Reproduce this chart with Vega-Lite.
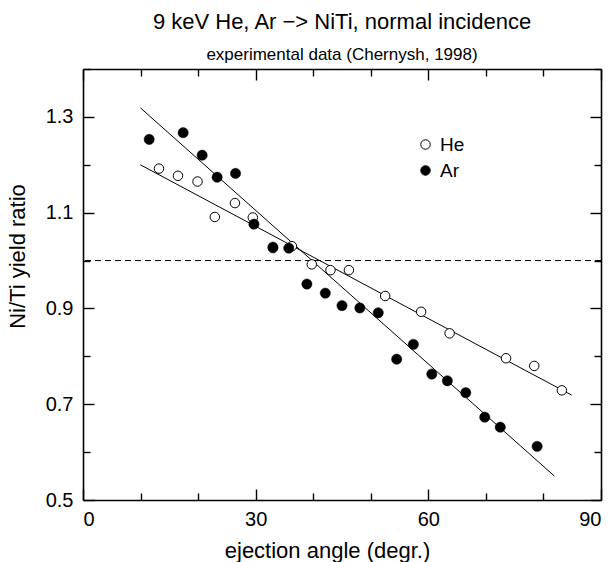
{
  "$schema": "https://vega.github.io/schema/vega-lite/v6.json",
  "width": 518,
  "height": 431,
  "autosize": "none",
  "padding": {"left": 83, "top": 69, "right": 11, "bottom": 62},
  "title": {
    "text": "9 keV He, Ar \u2212> NiTi, normal incidence",
    "subtitle": "experimental data (Chernysh, 1998)",
    "anchor": "middle",
    "frame": "group",
    "fontSize": 22,
    "fontWeight": "normal",
    "subtitleFontSize": 17,
    "subtitlePadding": 13,
    "offset": 4,
    "color": "black",
    "subtitleColor": "black"
  },
  "config": {
    "font": "Liberation Sans",
    "view": {"stroke": null},
    "axis": {"grid": false, "domainColor": "black", "domainWidth": 1.6, "tickColor": "black", "tickWidth": 1.4, "labelColor": "black", "titleColor": "black", "labelFontSize": 20, "titleFontSize": 22, "titleFontWeight": "normal"}
  },
  "datasets": {
    "points": [
      {"series": "He", "angle": 13.2, "ratio": 1.192},
      {"series": "He", "angle": 16.5, "ratio": 1.177},
      {"series": "He", "angle": 19.9, "ratio": 1.165},
      {"series": "He", "angle": 22.9, "ratio": 1.091},
      {"series": "He", "angle": 26.4, "ratio": 1.120},
      {"series": "He", "angle": 29.5, "ratio": 1.090},
      {"series": "He", "angle": 33.0, "ratio": 1.026},
      {"series": "He", "angle": 36.3, "ratio": 1.030},
      {"series": "He", "angle": 39.75, "ratio": 0.992},
      {"series": "He", "angle": 43.0, "ratio": 0.980},
      {"series": "He", "angle": 46.2, "ratio": 0.980},
      {"series": "He", "angle": 52.5, "ratio": 0.926},
      {"series": "He", "angle": 58.75, "ratio": 0.893},
      {"series": "He", "angle": 63.7, "ratio": 0.848},
      {"series": "He", "angle": 73.5, "ratio": 0.796},
      {"series": "He", "angle": 78.4, "ratio": 0.780},
      {"series": "He", "angle": 83.2, "ratio": 0.729},
      {"series": "Ar", "angle": 11.5, "ratio": 1.253},
      {"series": "Ar", "angle": 17.4, "ratio": 1.267},
      {"series": "Ar", "angle": 20.7, "ratio": 1.220},
      {"series": "Ar", "angle": 23.3, "ratio": 1.174},
      {"series": "Ar", "angle": 26.5, "ratio": 1.182},
      {"series": "Ar", "angle": 29.7, "ratio": 1.076},
      {"series": "Ar", "angle": 33.0, "ratio": 1.028},
      {"series": "Ar", "angle": 35.75, "ratio": 1.026},
      {"series": "Ar", "angle": 38.9, "ratio": 0.951},
      {"series": "Ar", "angle": 42.1, "ratio": 0.932},
      {"series": "Ar", "angle": 45.0, "ratio": 0.906},
      {"series": "Ar", "angle": 48.1, "ratio": 0.901},
      {"series": "Ar", "angle": 51.3, "ratio": 0.891},
      {"series": "Ar", "angle": 54.5, "ratio": 0.794},
      {"series": "Ar", "angle": 57.4, "ratio": 0.825},
      {"series": "Ar", "angle": 60.6, "ratio": 0.763},
      {"series": "Ar", "angle": 63.3, "ratio": 0.749},
      {"series": "Ar", "angle": 66.5, "ratio": 0.724},
      {"series": "Ar", "angle": 69.8, "ratio": 0.673},
      {"series": "Ar", "angle": 72.5, "ratio": 0.652},
      {"series": "Ar", "angle": 78.9, "ratio": 0.612}
    ],
    "fits": [
      {"series": "He", "angle": 9.96, "ratio": 1.200},
      {"series": "He", "angle": 84.9, "ratio": 0.719},
      {"series": "Ar", "angle": 9.96, "ratio": 1.319},
      {"series": "Ar", "angle": 81.9, "ratio": 0.550}
    ]
  },
  "resolve": {"axis": {"x": "independent", "y": "independent"}},
  "layer": [
    {
      "data": {"values": [{"ref": 1.0}]},
      "mark": {"type": "rule", "strokeDash": [6, 4], "color": "black", "strokeWidth": 1},
      "encoding": {
        "y": {"field": "ref", "type": "quantitative", "scale": {"domain": [0.5, 1.4], "nice": false, "zero": false}, "axis": null}
      }
    },
    {
      "data": {"name": "fits"},
      "transform": [{"filter": "datum.series === 'He'"}],
      "mark": {"type": "line", "color": "black", "strokeWidth": 1},
      "encoding": {
        "x": {"field": "angle", "type": "quantitative", "scale": {"domain": [0, 90], "nice": false, "zero": false},
          "axis": {"orient": "bottom", "values": [0, 30, 60, 90], "tickSize": -11, "labelPadding": 20, "domain": true, "title": "ejection angle (degr.)", "titleX": 244, "titleY": 57, "titleBaseline": "alphabetic", "titleAnchor": "start", "titleAlign": "center"}},
        "y": {"field": "ratio", "type": "quantitative", "scale": {"domain": [0.5, 1.4], "nice": false, "zero": false},
          "axis": {"orient": "left", "values": [0.5, 0.7, 0.9, 1.1, 1.3], "format": ".1f", "tickSize": -11, "labelPadding": 21, "domain": true, "title": "Ni/Ti yield ratio", "titleX": -66, "titleY": 187, "titleAngle": -90, "titleAlign": "center", "titleBaseline": "middle", "titleAnchor": "start"}}
      }
    },
    {
      "data": {"name": "fits"},
      "transform": [{"filter": "datum.series === 'Ar'"}],
      "mark": {"type": "line", "color": "black", "strokeWidth": 1},
      "encoding": {
        "x": {"field": "angle", "type": "quantitative", "scale": {"domain": [0, 90], "nice": false, "zero": false},
          "axis": {"orient": "top", "values": [0, 30, 60, 90], "tickSize": -11, "labels": false, "domain": true, "title": null}},
        "y": {"field": "ratio", "type": "quantitative", "scale": {"domain": [0.5, 1.4], "nice": false, "zero": false},
          "axis": {"orient": "right", "values": [0.5, 0.7, 0.9, 1.1, 1.3], "tickSize": -11, "labels": false, "domain": true, "title": null}}
      }
    },
    {
      "data": {"name": "points"},
      "transform": [{"filter": "datum.series === 'He'"}],
      "mark": {"type": "point", "shape": "circle", "filled": true, "stroke": "black", "strokeWidth": 1, "size": 90, "opacity": 1},
      "encoding": {
        "x": {"field": "angle", "type": "quantitative", "scale": {"domain": [0, 90], "nice": false, "zero": false},
          "axis": {"orient": "bottom", "values": [10, 20, 40, 50, 70, 80], "tickSize": -7, "labels": false, "domain": false, "title": null}},
        "y": {"field": "ratio", "type": "quantitative", "scale": {"domain": [0.5, 1.4], "nice": false, "zero": false},
          "axis": {"orient": "left", "values": [0.6, 0.8, 1.0, 1.2, 1.4], "tickSize": -7, "labels": false, "domain": false, "title": null}},
        "fill": {"field": "series", "type": "nominal", "scale": {"domain": ["He", "Ar"], "range": ["white", "black"]},
          "legend": {"title": null, "orient": "none", "legendX": 333, "legendY": 66, "symbolType": "circle", "symbolSize": 90, "symbolStrokeColor": "black", "symbolStrokeWidth": 1, "symbolOpacity": 1, "labelFontSize": 19, "labelColor": "black", "labelOffset": 5, "rowPadding": 6, "padding": 0}}
      }
    },
    {
      "data": {"name": "points"},
      "transform": [{"filter": "datum.series === 'Ar'"}],
      "mark": {"type": "point", "shape": "circle", "filled": true, "stroke": "black", "strokeWidth": 0.5, "size": 105, "opacity": 1},
      "encoding": {
        "x": {"field": "angle", "type": "quantitative", "scale": {"domain": [0, 90], "nice": false, "zero": false},
          "axis": {"orient": "top", "values": [10, 20, 40, 50, 70, 80], "tickSize": -7, "labels": false, "domain": false, "title": null}},
        "y": {"field": "ratio", "type": "quantitative", "scale": {"domain": [0.5, 1.4], "nice": false, "zero": false},
          "axis": {"orient": "right", "values": [0.6, 0.8, 1.0, 1.2, 1.4], "tickSize": -7, "labels": false, "domain": false, "title": null}},
        "fill": {"field": "series", "type": "nominal", "scale": {"domain": ["He", "Ar"], "range": ["white", "black"]}}
      }
    }
  ]
}
